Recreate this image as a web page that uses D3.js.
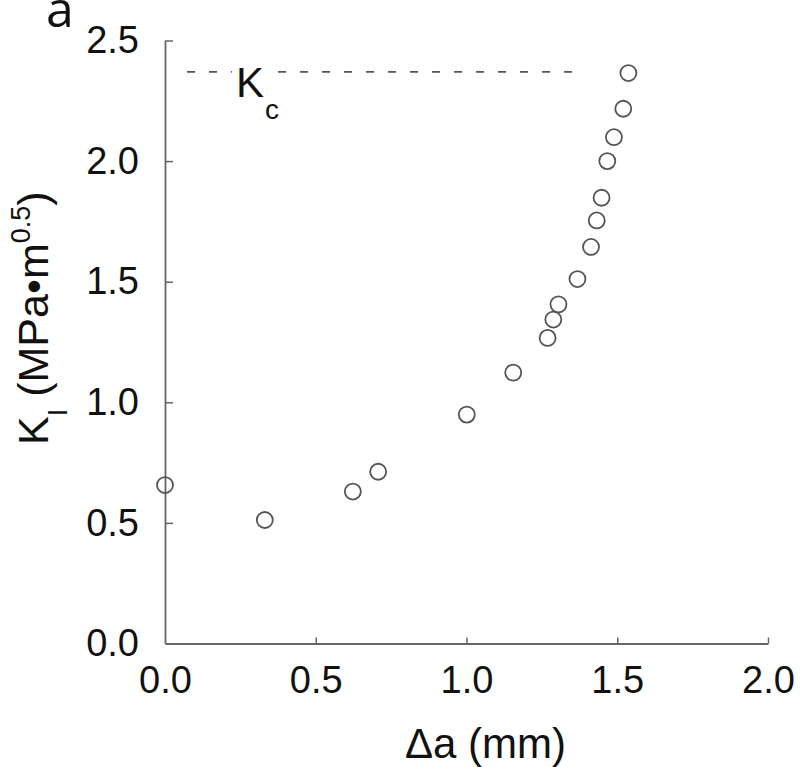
<!DOCTYPE html>
<html><head><meta charset="utf-8">
<script src="https://cdn.jsdelivr.net/npm/d3@7/dist/d3.min.js"></script>
<style>
html,body{margin:0;padding:0;background:#fff;}
svg{display:block;}
text{font-family:"Liberation Sans",Arial,Helvetica,sans-serif;fill:#111;}
</style></head>
<body>
<script>
// Data
const crackExt = [0.0, 0.331, 0.623, 0.707, 1.001, 1.155, 1.269, 1.288, 1.305, 1.368, 1.413, 1.432, 1.448, 1.467, 1.489, 1.520, 1.537];
const kI       = [0.657, 0.512, 0.630, 0.712, 0.949, 1.123, 1.267, 1.343, 1.406, 1.511, 1.644, 1.754, 1.848, 2.000, 2.099, 2.217, 2.365];
const xTicks = [0.0, 0.5, 1.0, 1.5, 2.0];
const yTicks = [0.0, 0.5, 1.0, 1.5, 2.0, 2.5];
const kc = 2.37;
const kcSegments = [[0.073, 0.222], [0.375, 1.37]];

const W = 800, H = 767;
const svg = d3.select("body").append("svg").attr("width", W).attr("height", H);

const x = d3.scaleLinear().domain([0, 2]).range([165, 768]);
const y = d3.scaleLinear().domain([0, 2.5]).range([643.5, 40.5]);

const axCol = "#666";

// x axis
const gx = svg.append("g").attr("transform", `translate(0,${y(0)})`)
  .call(d3.axisBottom(x).tickValues(xTicks).tickFormat(d3.format(".1f")).tickSizeInner(-6).tickSizeOuter(0).tickPadding(23));
gx.select(".domain").attr("stroke", axCol).attr("stroke-width", 1.8);
gx.selectAll(".tick line").attr("stroke", axCol).attr("stroke-width", 1.5);
gx.selectAll(".tick text").attr("font-size", 38).attr("fill", "#111").attr("dy", "0.71em")
  .attr("font-family", "'Liberation Sans',Arial,sans-serif");
gx.selectAll(".tick").filter(d => d === 0).select("line").remove();

// y axis
const gy = svg.append("g").attr("transform", `translate(${x(0)},0)`)
  .call(d3.axisLeft(y).tickValues(yTicks).tickFormat(d3.format(".1f")).tickSizeInner(-8).tickSizeOuter(0).tickPadding(26));
gy.select(".domain").attr("stroke", axCol).attr("stroke-width", 1.8);
gy.selectAll(".tick line").attr("stroke", axCol).attr("stroke-width", 1.5);
gy.selectAll(".tick text").attr("font-size", 38).attr("fill", "#111")
  .attr("font-family", "'Liberation Sans',Arial,sans-serif");
gy.selectAll(".tick").filter(d => d === 0).select("line").remove();

// Kc dashed line
svg.append("g").selectAll("line").data(kcSegments).join("line")
  .attr("x1", d => x(d[0])).attr("x2", d => x(d[1]))
  .attr("y1", y(kc)).attr("y2", y(kc))
  .attr("stroke", "#555").attr("stroke-width", 1.6).attr("stroke-dasharray", "8,14");

// Kc label
const kcLab = svg.append("text").attr("x", 236).attr("y", 97).attr("font-size", 42);
kcLab.append("tspan").text("K");
kcLab.append("tspan").attr("font-size", 28).attr("dx", 1).attr("dy", 22).text("c");

// points
svg.append("g").selectAll("circle").data(crackExt.map((d, i) => [d, kI[i]])).join("circle")
  .attr("cx", d => x(d[0])).attr("cy", d => y(d[1])).attr("r", 8)
  .attr("fill", "none").attr("stroke", "#555").attr("stroke-width", 1.8);

// x title
svg.append("text").attr("x", 405).attr("y", 758).attr("font-size", 42).text("Δa (mm)");

// y title
const yt = svg.append("text").attr("transform", "translate(48,445) rotate(-90)").attr("font-size", 43);
yt.append("tspan").text("K");
yt.append("tspan").attr("font-size", 27).attr("dy", 19).text("I");
yt.append("tspan").attr("dy", -19).text(" (MPa•m");
yt.append("tspan").attr("font-size", 27).attr("dy", -18).text("0.5");
yt.append("tspan").attr("dy", 18).text(")");

// panel letter
svg.append("text").attr("x", 46).attr("y", 27).attr("font-size", 50)
  .style("font-family", "'Open Sans','Noto Sans',sans-serif").text("a");
</script>
</body></html>
